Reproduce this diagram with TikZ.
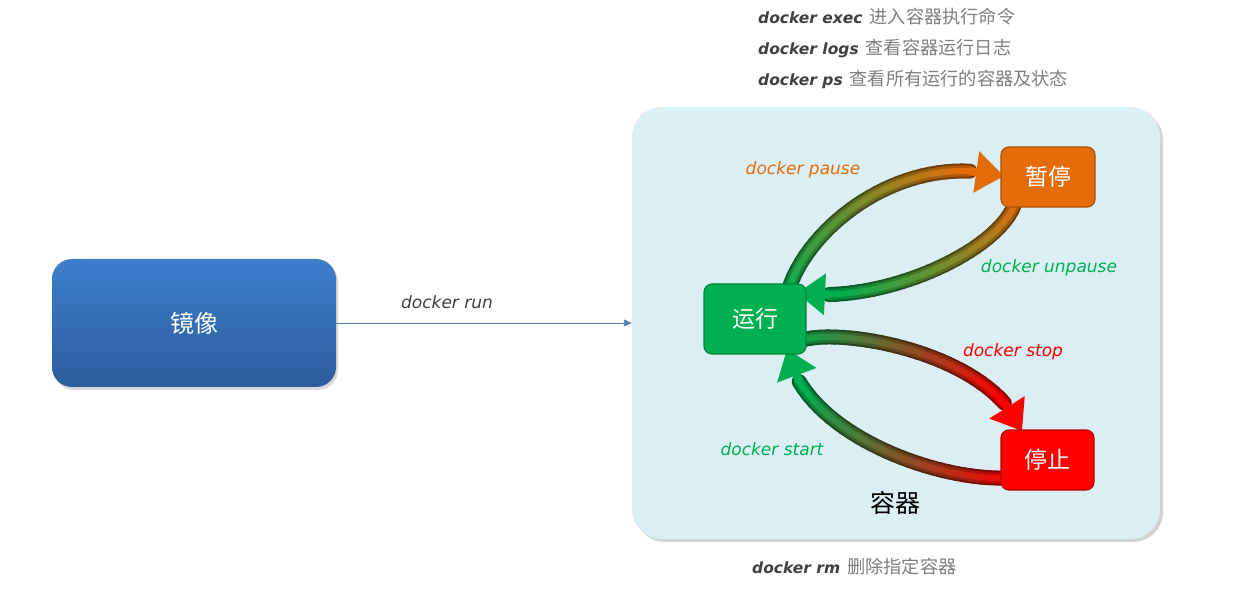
\documentclass[tikz,border=0pt]{standalone}
\usepackage{fontspec}
\setmainfont{DejaVu Sans}
\newfontfamily\cjk{Noto Sans CJK SC}
\usetikzlibrary{arrows.meta,shadows,decorations.markings}
\definecolor{blueT}{HTML}{3D7ECC}
\definecolor{blueB}{HTML}{2C5C9C}
\definecolor{runblue}{HTML}{4F81BD}
\definecolor{contbg}{HTML}{DAEEF3}
\definecolor{grn}{HTML}{00B050}
\definecolor{org}{HTML}{E46C0A}
\definecolor{rd}{HTML}{FF0000}
\definecolor{dk}{HTML}{404040}
\definecolor{gy}{HTML}{7F7F7F}
\newcommand\cmdfont{\itshape\fontsize{15.5}{18}\selectfont}
\newcommand\lblfont{\itshape\fontsize{17}{20}\selectfont}
\newcommand\cnfont{\cjk\fontsize{18.2}{20}\selectfont}
\newcommand\tubearrow[6]{%
  \path[decorate,decoration={markings,
    mark=between positions 0 and 0.89 step 0.03 with
      {\coordinate (g\pgfkeysvalueof{/pgf/decoration/mark info/sequence number});}}]
    #1 .. controls #2 and #3 .. #4;
  \foreach \k [remember=\k as \prev (initially 1),
               evaluate=\k as \pc using {int(100-100*(\k-1)/29)}] in {2,...,30}
    {\draw[tubeouter,color=#5!\pc!#6!55!black] (g\prev) -- (g\k);}
  \foreach \k [remember=\k as \prev (initially 1),
               evaluate=\k as \pc using {int(100-100*(\k-1)/29)}] in {2,...,30}
    {\draw[tubemid,color=#5!\pc!#6!80!black] (g\prev) -- (g\k);}
  \foreach \k [remember=\k as \prev (initially 1),
               evaluate=\k as \pc using {int(100-100*(\k-1)/29)}] in {2,...,30}
    {\draw[tubeinner,color=#5!\pc!#6] (g\prev) -- (g\k);}
  \draw[line width=8pt,color=#6,-{Triangle[length=28pt,width=40pt]}] (g30) -- #4;
}
\begin{document}
\begin{tikzpicture}[x=1pt,y=-1pt,
  tubeouter/.style={line width=15pt,line cap=round},
  tubemid/.style={line width=11pt,line cap=round},
  tubeinner/.style={line width=6pt,line cap=round},
  mirrorbox/.style={rounded corners=20pt,top color=blueT,bottom color=blueB,draw=none,
    minimum width=284pt,minimum height=128pt,text=white,
    font=\cjk\fontsize{24}{28}\selectfont,
    drop shadow={shadow xshift=2pt,shadow yshift=-3pt,opacity=0.3}},
  contbox/.style={rounded corners=30pt,fill=contbg,draw=none,
    minimum width=528pt,minimum height=432pt,
    drop shadow={shadow xshift=3pt,shadow yshift=-3pt,opacity=0.35}},
  statebox/.style={rounded corners=8pt,draw=#1!75!black,line width=1.2pt,fill=#1,text=white,
    font=\cjk\fontsize{23}{26}\selectfont},
  cmdlabel/.style={font=\lblfont,text=#1,inner sep=0pt},
  toptext/.style={anchor=west,inner sep=0pt},
]
\useasboundingbox (0,0) rectangle (1259,612);

% top commands
\node[toptext] (t1) at (758,17) {\textcolor{dk}{\cmdfont\bfseries docker exec}\hspace{7pt}\textcolor{gy}{\cnfont 进入容器执行命令}};
\node[toptext] (t2) at (758,48) {\textcolor{dk}{\cmdfont\bfseries docker logs}\hspace{7pt}\textcolor{gy}{\cnfont 查看容器运行日志}};
\node[toptext] (t3) at (758,79) {\textcolor{dk}{\cmdfont\bfseries docker ps}\hspace{7pt}\textcolor{gy}{\cnfont 查看所有运行的容器及状态}};
\node[toptext] (t4) at (752,567) {\textcolor{dk}{\cmdfont\bfseries docker rm}\hspace{7pt}\textcolor{gy}{\cnfont 删除指定容器}};

% image and container
\node[mirrorbox] (img) at (194,323) {镜像};
\node[contbox] (box) at (896,323) {};
\node (lbl) at (895,503) {\cjk\fontsize{25}{28}\selectfont 容器};
\draw[runblue,line width=0.9pt,-{Triangle[length=8pt,width=7pt]}] (img.east) -- (box.west);
\node[cmdlabel=dk] (lrun) at (447,302) {docker run};

% states (positions)
\coordinate (runc) at (755,319);
\coordinate (pausec) at (1048,177);
\coordinate (stopc) at (1047.5,460);

% tubes
\coordinate (p0) at (788,292);
\coordinate (p3) at (1004,176);
\tubearrow{(p0)}{(805,230)}{(900,150)}{(p3)}{grn}{org}
\coordinate (u0) at (1015,203);
\coordinate (u3) at (797,293);
\tubearrow{(u0)}{(1000,250)}{(885,305)}{(u3)}{org}{grn}
\coordinate (s0) at (797,342);
\coordinate (s3) at (1022,431);
\tubearrow{(s0)}{(830,325)}{(990,350)}{(s3)}{grn}{rd}
\coordinate (r0) at (1005,478);
\coordinate (r3) at (787,349);
\tubearrow{(r0)}{(930,480)}{(800,430)}{(r3)}{rd}{grn}

% state boxes
\node[statebox=grn,minimum width=102pt,minimum height=70pt] (run) at (runc) {运行};
\node[statebox=org,minimum width=94pt,minimum height=60pt] (pause) at (pausec) {暂停};
\node[statebox=rd,minimum width=93pt,minimum height=60pt] (stop) at (stopc) {停止};

% labels
\node[cmdlabel=org] (lpause) at (803,170) {docker pause};
\node[cmdlabel=grn] (lunpause) at (1049,268) {docker unpause};
\node[cmdlabel=rd] (lstop) at (1013,352) {docker stop};
\node[cmdlabel=grn] (lstart) at (772,449) {docker start};
\end{tikzpicture}
\end{document}
